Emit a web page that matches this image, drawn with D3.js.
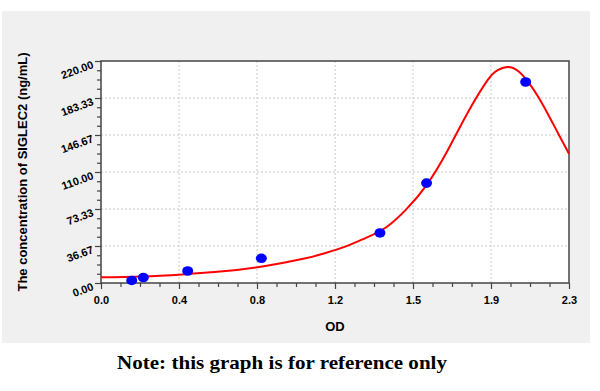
<!DOCTYPE html>
<html>
<head>
<meta charset="utf-8">
<script src="https://cdn.jsdelivr.net/npm/d3@7"></script>
<style>
  body { margin: 0; background: #fff; }
  text { font-family: Arial, "Liberation Sans", sans-serif; }
</style>
</head>
<body>
<div id="chart"></div>
<script>
// measured standards (OD, concentration)
var pointOD = [0.151, 0.208, 0.426, 0.788, 1.371, 1.60, 2.087];
var pointConc = [2.5, 5.4, 11.9, 24.5, 49.6, 99, 199.2];

// fitted curve
var curveOD = [0.0, 0.2, 0.4, 0.6, 0.8, 1.0, 1.1, 1.2, 1.3, 1.4, 1.5, 1.6, 1.7, 1.8, 1.9, 1.95, 2.0, 2.05, 2.1, 2.15, 2.2, 2.25, 2.3];
var curveConc = [5.6, 6.4, 8.5, 11.6, 16.6, 24.2, 29.5, 36, 44.5, 55, 73, 97, 130, 168, 201, 211, 214, 210, 199, 184, 166, 147, 128];

var xTicks = [0, 2.3 / 6, 2.3 * 2 / 6, 2.3 * 3 / 6, 2.3 * 4 / 6, 2.3 * 5 / 6, 2.3];
var yTicks = [0, 220 / 6, 220 * 2 / 6, 220 * 3 / 6, 220 * 4 / 6, 220 * 5 / 6, 220];

var W = 600, H = 391;
var margin = {top: 61, right: 31, bottom: 108, left: 101};
var width = W - margin.left - margin.right;
var height = H - margin.top - margin.bottom;

var svg = d3.select("#chart").append("svg")
  .attr("width", W)
  .attr("height", H);

// grey panel
svg.append("rect")
  .attr("x", 2).attr("y", 11)
  .attr("width", 588).attr("height", 332)
  .attr("fill", "#f0f0f0");

var g = svg.append("g")
  .attr("transform", "translate(" + margin.left + "," + margin.top + ")");

var x = d3.scaleLinear().domain([0, 2.3]).range([0, width]);
var y = d3.scaleLinear().domain([0, 220]).range([height, 0]);

g.append("rect")
  .attr("width", width).attr("height", height)
  .attr("fill", "#fff");

// grid
g.selectAll(".gx").data(xTicks.slice(1, -1)).enter().append("line")
  .attr("x1", function(d) { return x(d); })
  .attr("x2", function(d) { return x(d); })
  .attr("y1", 0).attr("y2", height)
  .attr("stroke", "#c8c8c8").attr("stroke-dasharray", "2,2");

g.selectAll(".gy").data(yTicks.slice(1, -1)).enter().append("line")
  .attr("y1", function(d) { return y(d); })
  .attr("y2", function(d) { return y(d); })
  .attr("x1", 0).attr("x2", width)
  .attr("stroke", "#c8c8c8").attr("stroke-dasharray", "2,2");

// minor ticks
var xMinor = [], yMinor = [];
for (var i = 0; i < 6; i++) {
  for (var j = 1; j < 4; j++) {
    xMinor.push(xTicks[i] + (xTicks[i + 1] - xTicks[i]) * j / 4);
    yMinor.push(yTicks[i] + (yTicks[i + 1] - yTicks[i]) * j / 4);
  }
}

var xAxis = d3.axisBottom(x).tickValues(xTicks).tickSize(6)
  .tickFormat(function(d) { return (d + 1e-9).toFixed(1); });
var yAxis = d3.axisLeft(y).tickValues(yTicks).tickSize(6)
  .tickFormat(function(d) { return (d + 1e-9).toFixed(2); });

var gx = g.append("g").attr("transform", "translate(0," + height + ")").call(xAxis);
var gy = g.append("g").call(yAxis);

g.append("g").attr("transform", "translate(0," + height + ")")
  .call(d3.axisBottom(x).tickValues(xMinor).tickSize(4).tickFormat(""));
g.append("g")
  .call(d3.axisLeft(y).tickValues(yMinor).tickSize(4).tickFormat(""));

g.selectAll(".domain").remove();
g.selectAll(".tick line").attr("stroke", "#444").attr("stroke-width", 1.2);

gx.selectAll("text")
  .attr("dy", "1.1em")
  .style("font-size", "11px").style("font-weight", "bold").attr("fill", "#000");

gy.selectAll("text")
  .attr("x", -9).attr("dy", "0.6em")
  .attr("transform", "rotate(-20,-9,0)")
  .style("font-size", "11px").style("font-weight", "bold").attr("fill", "#000");

// frame
g.append("rect")
  .attr("width", width).attr("height", height)
  .attr("fill", "none").attr("stroke", "#444").attr("stroke-width", 1.5);

// curve
var curveData = curveOD.map(function(d, i) { return [d, curveConc[i]]; });
var line = d3.line()
  .x(function(d) { return x(d[0]); })
  .y(function(d) { return y(d[1]); })
  .curve(d3.curveNatural);

g.append("path")
  .datum(curveData)
  .attr("d", line)
  .attr("fill", "none")
  .attr("stroke", "#ff0000")
  .attr("stroke-width", 2);

// points
g.selectAll(".pt").data(pointOD).enter().append("ellipse")
  .attr("cx", function(d) { return x(d); })
  .attr("cy", function(d, i) { return y(pointConc[i]); })
  .attr("rx", 5.5).attr("ry", 4.8)
  .attr("fill", "#0000ff");

// labels
svg.append("text")
  .attr("x", margin.left + width / 2).attr("y", 331)
  .attr("text-anchor", "middle")
  .style("font-size", "13px").style("font-weight", "bold")
  .text("OD");

svg.append("text")
  .attr("transform", "translate(27," + (margin.top + height / 2) + ") rotate(-90)")
  .attr("text-anchor", "middle")
  .style("font-size", "13px").style("font-weight", "bold")
  .text("The concentration of SIGLEC2 (ng/mL)");

svg.append("text")
  .attr("x", 117).attr("y", 369)
  .attr("textLength", 330)
  .attr("lengthAdjust", "spacingAndGlyphs")
  .style("font-family", "'Liberation Serif', 'DejaVu Serif', serif")
  .style("font-size", "19px").style("font-weight", "bold")
  .text("Note: this graph is for reference only");
</script>
</body>
</html>
